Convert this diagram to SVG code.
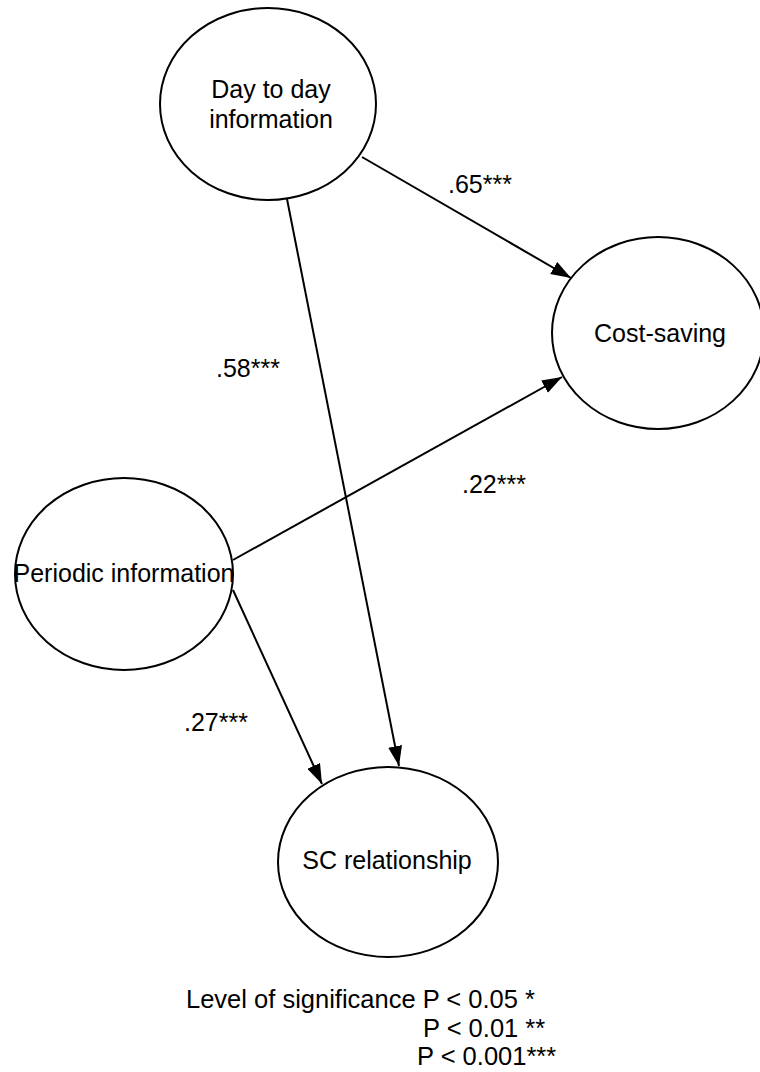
<svg xmlns="http://www.w3.org/2000/svg" width="760" height="1072" viewBox="0 0 760 1072">
  <style>
    .node { fill: #ffffff; stroke: #000000; stroke-width: 2; }
    .label { font-family: "Liberation Sans", Arial, sans-serif; font-size: 25px; fill: #000000; }
    .legend { font-size: 25.5px; }
    .mid { text-anchor: middle; }
    .edge { stroke: #000000; stroke-width: 2; fill: none; marker-end: url(#arrow); }
  </style>
  <defs>
    <marker id="arrow" markerUnits="userSpaceOnUse" markerWidth="20" markerHeight="14" refX="20" refY="7" orient="auto">
      <path d="M0,0 L20,7 L0,14 z" fill="#000000"/>
    </marker>
  </defs>
  <rect width="760" height="1072" fill="#ffffff"/>

  <!-- paths between constructs -->
  <g id="connectors">
    <line class="edge" x1="362" y1="157" x2="571" y2="278"/>
    <line class="edge" x1="287" y1="199" x2="399" y2="766"/>
    <line class="edge" x1="233" y1="560" x2="562" y2="377"/>
    <line class="edge" x1="233" y1="590" x2="322" y2="784"/>
  </g>

  <g id="day-to-day">
    <ellipse class="node" cx="268" cy="104" rx="108" ry="96"/>
    <text class="label mid" x="271" y="98">Day to day</text>
    <text class="label mid" x="271" y="128">information</text>
  </g>

  <g id="cost-saving">
    <ellipse class="node" cx="658" cy="333" rx="106" ry="96"/>
    <text class="label mid" x="660" y="342">Cost-saving</text>
  </g>

  <g id="periodic">
    <ellipse class="node" cx="124" cy="574" rx="109" ry="96"/>
    <text class="label mid" x="124" y="582">Periodic information</text>
  </g>

  <g id="sc-relationship">
    <ellipse class="node" cx="388" cy="862" rx="110" ry="95"/>
    <text class="label mid" x="387" y="869">SC relationship</text>
  </g>

  <!-- path coefficients -->
  <g id="coefficients">
    <text class="label" x="448" y="193">.65***</text>
    <text class="label" x="216" y="377">.58***</text>
    <text class="label" x="462" y="493">.22***</text>
    <text class="label" x="184" y="731">.27***</text>
  </g>

  <g id="legend">
    <text class="label legend" x="186" y="1008">Level of significance P &lt; 0.05 *</text>
    <text class="label legend" x="423" y="1037">P &lt; 0.01 **</text>
    <text class="label legend" x="417" y="1065">P &lt; 0.001***</text>
  </g>
</svg>
